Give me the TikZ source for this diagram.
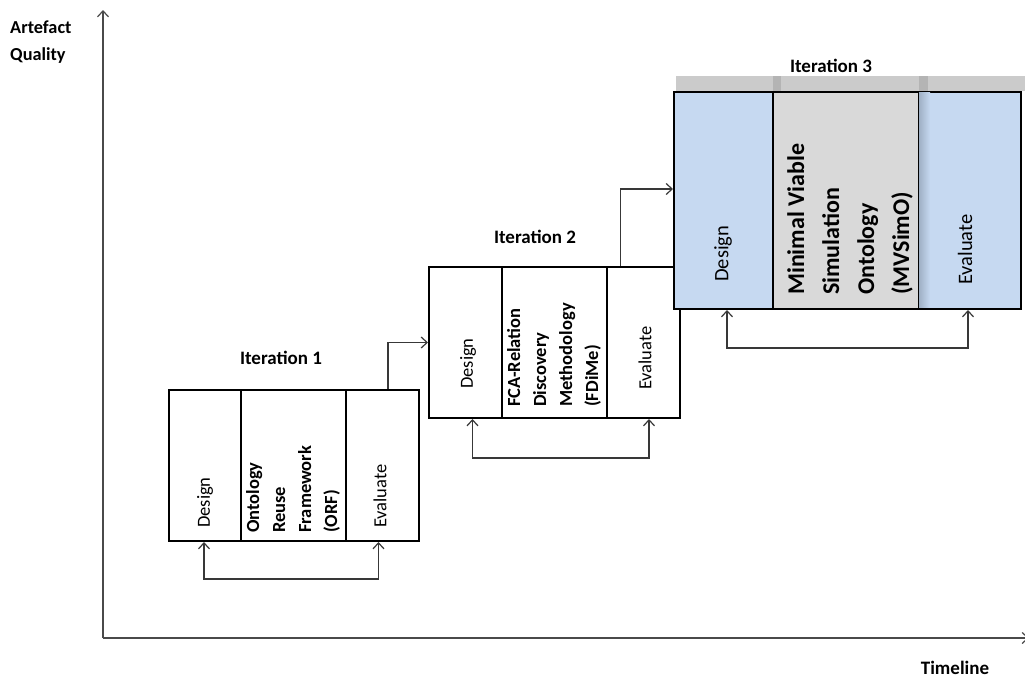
\documentclass[tikz,border=0pt]{standalone}
\usepackage{fontspec}
\setmainfont{Carlito}
\usetikzlibrary{arrows.meta}
\definecolor{cellblue}{HTML}{C6D9F1}
\definecolor{cellgray}{HTML}{D9D9D9}
\definecolor{bandgray}{HTML}{CBCBCB}
\definecolor{banddark}{HTML}{B4B4B4}
\definecolor{stripblue}{HTML}{9FB0C5}
\definecolor{linegray}{HTML}{383838}
\definecolor{axisgray}{HTML}{4A4A4A}
\begin{document}
\begin{tikzpicture}[x=1pt,y=-1pt,
  cellbox/.style={draw=black, line width=2pt, inner sep=0pt, anchor=north west, minimum height=#1},
  barb/.tip={Straight Barb[length=6pt,width=11pt,line width=1.2pt]},
  conn/.style={draw=linegray, line width=1.2pt},
  axis/.style={draw=axisgray, line width=1.4pt},
  vlabel/.style={rotate=90, anchor=west, inner sep=0pt, font=\fontsize{18.5}{22}\selectfont},
  vbold/.style={rotate=90, anchor=north west, inner sep=0pt, align=left, font=\bfseries\fontsize{18.5}{26}\selectfont},
  title/.style={inner sep=0pt, font=\bfseries\fontsize{19}{23}\selectfont},
  axlabel/.style={inner sep=0pt, align=left, font=\bfseries\fontsize{18.3}{27}\selectfont}]
\useasboundingbox (0,0) rectangle (1025,680);
\fill[white] (0,0) rectangle (1025,680);

% axes
\coordinate (o) at (103,638);
\coordinate (ytop) at (103,10);
\coordinate (xend) at (1029,638);
\draw[axis,-barb] (o) -- (ytop);
\draw[axis,-barb] (o) -- (xend);
\node[axlabel, anchor=west] (aq) at (10,42.5) {Artefact\\Quality};
\node[title] (tl) at (955,668) {Timeline};

% iteration 1
\node[cellbox=151pt, minimum width=72pt] (d1) at (168,389) {};
\node[cellbox=151pt, minimum width=105pt] (m1) at (240,389) {};
\node[cellbox=151pt, minimum width=73pt] (e1) at (345,389) {};
\node[vlabel] (td1) at (205,528) {Design};
\node[vlabel] (te1) at (380,528) {Evaluate};
\node[vbold] (tm1) at (246,533) {Ontology\\Reuse\\Framework\\(ORF)};
\node[title] (it1) at (281,358) {Iteration 1};
\draw[conn,barb-barb] ([xshift=-1pt]d1.south) -- ++(0,37) -| ([xshift=-4pt]e1.south);

% iteration 2
\node[cellbox=151pt, minimum width=73pt] (d2) at (428,266) {};
\node[cellbox=151pt, minimum width=105pt] (m2) at (501,266) {};
\node[cellbox=151pt, minimum width=73pt] (e2) at (606,266) {};
\node[vlabel] (td2) at (468,389) {Design};
\node[vlabel] (te2) at (645,390) {Evaluate};
\node[vbold] (tm2) at (507,407) {FCA-Relation\\Discovery\\Methodology\\(FDiMe)};
\node[title] (it2) at (535,237) {Iteration 2};
\draw[conn,barb-barb] ([xshift=7pt]d2.south) -- ++(0,39) -| ([xshift=5.5pt]e2.south);
\draw[conn,-barb] ([xshift=5.5pt]e1.north) |- (d2.west);

% iteration 3, with its shadow band
\fill[bandgray] (676,76) rectangle (1025,91);
\fill[banddark] (773,76) rectangle (781,91);
\fill[banddark] (919,76) rectangle (928,91);
\node[cellbox=217pt, minimum width=99pt, fill=cellblue] (d3) at (673,91) {};
\node[cellbox=217pt, minimum width=146pt, fill=cellgray] (m3) at (772,91) {};
\node[cellbox=217pt, minimum width=102pt, fill=cellblue] (e3) at (918,91) {};
\shade[left color=stripblue, right color=cellblue] (919,92) rectangle (930,307);
\node[vlabel, font=\fontsize{20.5}{24}\selectfont] (td3) at (723,282) {Design};
\node[vlabel, font=\fontsize{20.5}{24}\selectfont] (te3) at (965,285) {Evaluate};
\node[vbold, font=\bfseries\fontsize{24}{35}\selectfont] (tm3) at (787,295) {Minimal Viable\\Simulation\\Ontology\\(MVSimO)};
\node[title] (it3) at (831,66) {Iteration 3};
\draw[conn,barb-barb] ([xshift=3.5pt]d3.south) -- ++(0,38) -| ([xshift=-2pt]e3.south);
\draw[conn,-barb] ([xshift=-23pt]e2.north) |- ([yshift=11.5pt]d3.west);
\end{tikzpicture}
\end{document}
